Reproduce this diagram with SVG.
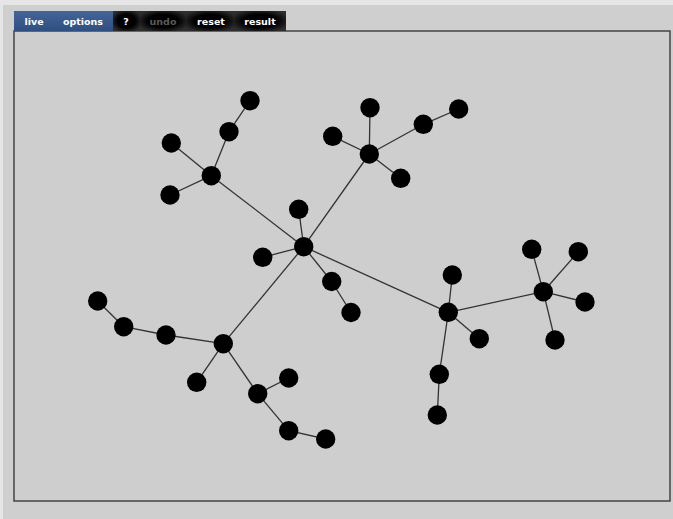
<svg xmlns="http://www.w3.org/2000/svg" width="673" height="519" viewBox="0 0 673 519">
<defs>
<linearGradient id="blue" x1="0" y1="0" x2="0" y2="1"><stop offset="0" stop-color="#43659a"/><stop offset="1" stop-color="#2f4f80"/></linearGradient>
<radialGradient id="btn" cx="0.5" cy="0.5" r="0.6"><stop offset="0.55" stop-color="#000"/><stop offset="1" stop-color="#2e2e2e"/></radialGradient>
</defs>
<style>
.bt{font-family:"DejaVu Sans",Verdana,sans-serif;font-weight:bold;font-size:9.5px;fill:#fff;text-anchor:middle}
.dim{fill:#5a5a5a}
.e line{stroke:#333;stroke-width:1.3}
.n circle{fill:#000}
</style>
<rect x="0" y="0" width="673" height="519" fill="#e6e6e6"/>
<rect x="3" y="5" width="670" height="514" fill="#cfcfcf"/>
<rect x="14" y="31" width="656" height="470" fill="#cecece" stroke="#444" stroke-width="1.5"/>
<g id="toolbar">
<rect x="14" y="11" width="99" height="20" fill="url(#blue)"/>
<rect x="113" y="11" width="173" height="20" fill="#000"/>
<rect x="113" y="11" width="27" height="20" fill="url(#btn)"/>
<rect x="140" y="11" width="46" height="20" fill="url(#btn)"/>
<rect x="186" y="11" width="48" height="20" fill="url(#btn)"/>
<rect x="234" y="11" width="52" height="20" fill="url(#btn)"/>
<text class="bt" x="34" y="25">live</text>
<text class="bt" x="83" y="25">options</text>
<text class="bt" x="126" y="25">?</text>
<text class="bt dim" x="163" y="25">undo</text>
<text class="bt" x="211" y="25">reset</text>
<text class="bt" x="260" y="25">result</text>
</g>
<g id="connectors" class="e">
<line x1="303.7" y1="246.7" x2="298.7" y2="209.3"/>
<line x1="303.7" y1="246.7" x2="262.7" y2="257.3"/>
<line x1="303.7" y1="246.7" x2="331.7" y2="281.5"/>
<line x1="331.7" y1="281.5" x2="351" y2="312.5"/>
<line x1="303.7" y1="246.7" x2="211.3" y2="175.7"/>
<line x1="211.3" y1="175.7" x2="171.3" y2="143"/>
<line x1="211.3" y1="175.7" x2="170" y2="195"/>
<line x1="211.3" y1="175.7" x2="229" y2="131.7"/>
<line x1="229" y1="131.7" x2="250" y2="100.7"/>
<line x1="303.7" y1="246.7" x2="369.3" y2="154"/>
<line x1="369.3" y1="154" x2="332.7" y2="136.3"/>
<line x1="369.3" y1="154" x2="370" y2="107.7"/>
<line x1="369.3" y1="154" x2="400.7" y2="178.3"/>
<line x1="369.3" y1="154" x2="423.3" y2="124.3"/>
<line x1="423.3" y1="124.3" x2="458.7" y2="109"/>
<line x1="303.7" y1="246.7" x2="448.3" y2="312.3"/>
<line x1="448.3" y1="312.3" x2="452.3" y2="275"/>
<line x1="448.3" y1="312.3" x2="479.3" y2="338.7"/>
<line x1="448.3" y1="312.3" x2="439.3" y2="374.3"/>
<line x1="439.3" y1="374.3" x2="437.3" y2="415"/>
<line x1="448.3" y1="312.3" x2="543.3" y2="291.7"/>
<line x1="543.3" y1="291.7" x2="531.7" y2="249.3"/>
<line x1="543.3" y1="291.7" x2="578.3" y2="251.7"/>
<line x1="543.3" y1="291.7" x2="585" y2="302"/>
<line x1="543.3" y1="291.7" x2="555" y2="340"/>
<line x1="303.7" y1="246.7" x2="223.3" y2="343.7"/>
<line x1="223.3" y1="343.7" x2="166" y2="335"/>
<line x1="166" y1="335" x2="123.7" y2="326.7"/>
<line x1="123.7" y1="326.7" x2="97.7" y2="301"/>
<line x1="223.3" y1="343.7" x2="196.7" y2="382.3"/>
<line x1="223.3" y1="343.7" x2="257.7" y2="393.7"/>
<line x1="257.7" y1="393.7" x2="288.7" y2="378"/>
<line x1="257.7" y1="393.7" x2="288.7" y2="430.7"/>
<line x1="288.7" y1="430.7" x2="325.7" y2="439"/>
</g>
<g class="n">
<g id="n1"><circle cx="303.7" cy="246.7" r="9.7"/></g>
<g id="n2"><circle cx="298.7" cy="209.3" r="9.7"/></g>
<g id="n3"><circle cx="262.7" cy="257.3" r="9.7"/></g>
<g id="n4"><circle cx="331.7" cy="281.5" r="9.7"/></g>
<g id="n5"><circle cx="351" cy="312.5" r="9.7"/></g>
<g id="n6"><circle cx="211.3" cy="175.7" r="9.7"/></g>
<g id="n7"><circle cx="171.3" cy="143" r="9.7"/></g>
<g id="n8"><circle cx="170" cy="195" r="9.7"/></g>
<g id="n9"><circle cx="229" cy="131.7" r="9.7"/></g>
<g id="n10"><circle cx="250" cy="100.7" r="9.7"/></g>
<g id="n11"><circle cx="369.3" cy="154" r="9.7"/></g>
<g id="n12"><circle cx="332.7" cy="136.3" r="9.7"/></g>
<g id="n13"><circle cx="370" cy="107.7" r="9.7"/></g>
<g id="n14"><circle cx="400.7" cy="178.3" r="9.7"/></g>
<g id="n15"><circle cx="423.3" cy="124.3" r="9.7"/></g>
<g id="n16"><circle cx="458.7" cy="109" r="9.7"/></g>
<g id="n17"><circle cx="448.3" cy="312.3" r="9.7"/></g>
<g id="n18"><circle cx="452.3" cy="275" r="9.7"/></g>
<g id="n19"><circle cx="479.3" cy="338.7" r="9.7"/></g>
<g id="n20"><circle cx="439.3" cy="374.3" r="9.7"/></g>
<g id="n21"><circle cx="437.3" cy="415" r="9.7"/></g>
<g id="n22"><circle cx="543.3" cy="291.7" r="9.7"/></g>
<g id="n23"><circle cx="531.7" cy="249.3" r="9.7"/></g>
<g id="n24"><circle cx="578.3" cy="251.7" r="9.7"/></g>
<g id="n25"><circle cx="585" cy="302" r="9.7"/></g>
<g id="n26"><circle cx="555" cy="340" r="9.7"/></g>
<g id="n27"><circle cx="223.3" cy="343.7" r="9.7"/></g>
<g id="n28"><circle cx="166" cy="335" r="9.7"/></g>
<g id="n29"><circle cx="123.7" cy="326.7" r="9.7"/></g>
<g id="n30"><circle cx="97.7" cy="301" r="9.7"/></g>
<g id="n31"><circle cx="196.7" cy="382.3" r="9.7"/></g>
<g id="n32"><circle cx="257.7" cy="393.7" r="9.7"/></g>
<g id="n33"><circle cx="288.7" cy="378" r="9.7"/></g>
<g id="n34"><circle cx="288.7" cy="430.7" r="9.7"/></g>
<g id="n35"><circle cx="325.7" cy="439" r="9.7"/></g>
</g>
</svg>
